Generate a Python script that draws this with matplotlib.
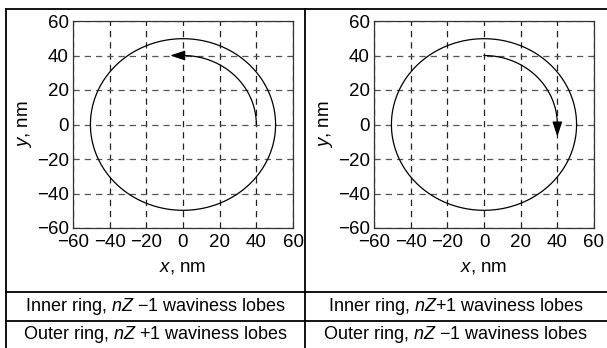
import numpy as np
import matplotlib
matplotlib.use("Agg")
import matplotlib.pyplot as plt
from matplotlib.lines import Line2D

plt.rcParams.update({
    "font.family": "Liberation Sans",
    "font.size": 13.5,
    "mathtext.fontset": "custom",
    "mathtext.rm": "Liberation Sans",
    "mathtext.it": "Liberation Sans:italic",
    "axes.unicode_minus": True,
})

# dados
ticks = [-60, -40, -20, 0, 20, 40, 60]
raio_anel = 50.5
raio_seta = 40
# (ângulo inicial, ângulo final, ponta da seta)
seta_esq = (0, 90, (-7, 40))
seta_dir = (90, 0, (40, -7))
textos_esq = ["Inner ring, $nZ$ \u22121 waviness lobes",
              "Outer ring, $nZ$ +1 waviness lobes"]
textos_dir = ["Inner ring, $nZ$+1 waviness lobes",
              "Outer ring, $nZ$ \u22121 waviness lobes"]

W, H = 607, 348
fig = plt.figure(figsize=(W / 100, H / 100), dpi=100)


def _eixo(x0, seta):
    ax = fig.add_axes([x0 / W, (H - 228) / H, 220 / W, 207 / H])
    t = np.linspace(0, 2 * np.pi, 400)
    ax.plot(raio_anel * np.cos(t), raio_anel * np.sin(t) * 0.985, color="k", lw=0.9)

    a0, a1, ponta = seta
    ang = np.radians(np.linspace(a0, a1, 200))
    xs, ys = raio_seta * np.cos(ang), raio_seta * np.sin(ang)
    ax.plot(xs, ys, color="k", lw=0.9)
    ax.annotate("", xy=ponta, xytext=(xs[-1], ys[-1]),
                arrowprops=dict(arrowstyle="-|>,head_length=0.9,head_width=0.3",
                                mutation_scale=10, color="k", lw=0.9,
                                shrinkA=0, shrinkB=0))

    ax.set_xlim(-60, 60)
    ax.set_ylim(-60, 60)
    ax.set_xticks(ticks)
    ax.set_yticks(ticks)
    ax.tick_params(axis="x", length=0, pad=4)
    ax.tick_params(axis="y", length=0, pad=3)
    ax.xaxis.grid(True, color="#222222", ls=(0, (5, 4)), lw=0.9)
    ax.yaxis.grid(True, color="#555555", ls=(0, (5, 4)), lw=0.9)
    for s in ax.spines.values():
        s.set_color("#333333")
        s.set_linewidth(0.9)
    ax.set_xlabel("$x$, nm", labelpad=6)
    ax.set_ylabel("$y$, nm", labelpad=2)
    return ax


_eixo(73, seta_esq)
_eixo(374, seta_dir)

# linhas da tabela (coordenadas em pixels)
def _linha(x, y):
    fig.add_artist(Line2D([v / W for v in x], [1 - v / H for v in y],
                          color="k", lw=1.3, transform=fig.transFigure))

_linha([6, W], [9, 9])
_linha([6, 6], [9, H])
_linha([305, 305], [9, H])
_linha([6, W], [292, 292])
_linha([6, W], [321, 321])

for i, (te, td) in enumerate(zip(textos_esq, textos_dir)):
    yc = [306.5, 334.5][i]
    fig.text(155.5 / W, 1 - yc / H, te, ha="center", va="center", fontsize=13)
    fig.text(456 / W, 1 - yc / H, td, ha="center", va="center", fontsize=13)

fig.savefig("out.png", dpi=100)
